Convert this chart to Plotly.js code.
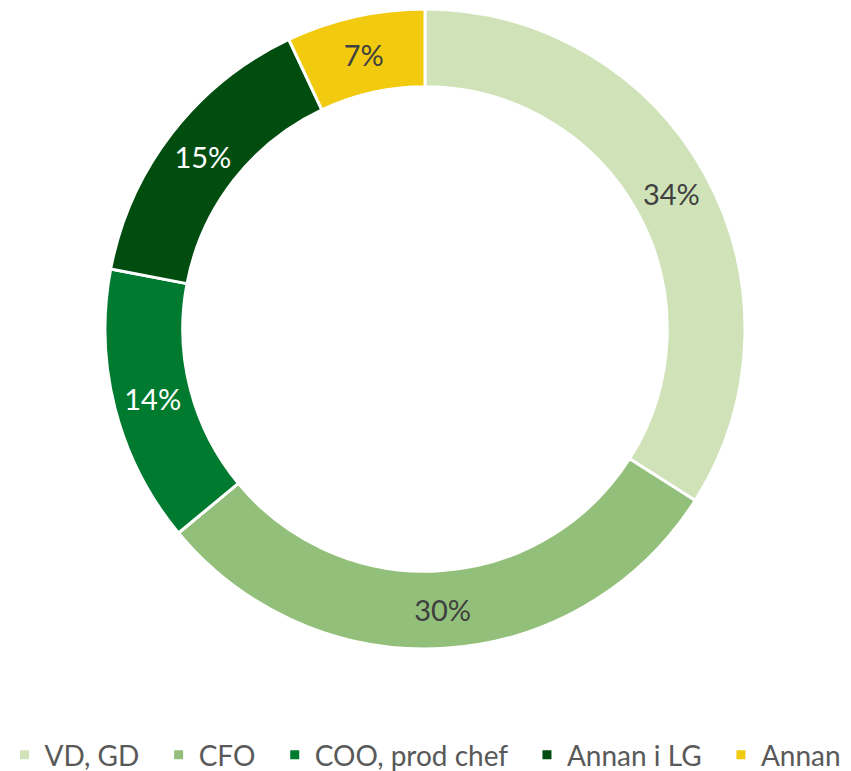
<!DOCTYPE html>
<html>
<head>
<meta charset="utf-8">
<script src="https://cdn.plot.ly/plotly-3.0.1.min.js"></script>
<style>html,body{margin:0;padding:0;background:#fff;}#chart{width:851px;height:771px;}</style>
</head>
<body>
<div id="chart"></div>
<script>
const categories = ["VD, GD", "CFO", "COO, prod chef", "Annan i LG", "Annan"];
const shares = [34, 30, 14, 15, 7];
const colors = ["#d0e3b8", "#92c07a", "#007a2f", "#004d0f", "#f2cb10"];
const textColors = ["#404040", "#404040", "#ffffff", "#ffffff", "#404040"];

// legend labels: category names with a little trailing spacing between entries
const legendLabels = categories.map((c, i) => i < categories.length - 1 ? c + "\u00a0\u00a0" : c);

const trace = {
  type: "pie",
  labels: legendLabels,
  values: shares,
  sort: false,
  direction: "clockwise",
  rotation: 0,
  hole: 0.757,
  marker: {colors: colors, line: {color: "#ffffff", width: 3}},
  texttemplate: "%{value}%",
  textposition: "inside",
  insidetextorientation: "horizontal",
  textfont: {family: "Lato, Carlito, Open Sans, sans-serif", size: 29, color: textColors},
  domain: {x: [105/851, 745/851], y: [(771-649)/771, (771-9)/771]},
  hoverinfo: "none"
};

const layout = {
  width: 851, height: 771,
  margin: {l: 0, r: 0, t: 0, b: 0, autoexpand: false},
  paper_bgcolor: "#ffffff",
  showlegend: true,
  legend: {
    orientation: "h",
    x: 0.5, xanchor: "center",
    y: (771-755)/771, yanchor: "middle",
    font: {family: "Lato, Carlito, Open Sans, sans-serif", size: 28, color: "#595959"},
    itemwidth: 30,
    traceorder: "normal"
  }
};

Plotly.newPlot("chart", [trace], layout, {displayModeBar: false, staticPlot: true});
</script>
</body>
</html>
